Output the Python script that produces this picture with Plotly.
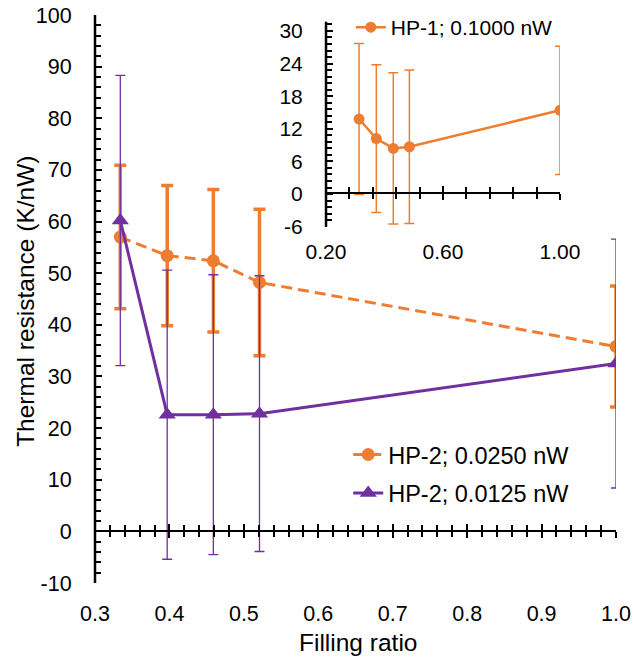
import plotly.graph_objects as go

# main chart: HP-2 at two heat loads
filling_ratio = [0.334, 0.397, 0.459, 0.521, 1.0]
hp2_025 = [57.0, 53.4, 52.4, 48.2, 35.8]
hp2_025_err = [13.9, 13.6, 13.8, 14.2, 11.7]
hp2_0125 = [60.2, 22.6, 22.6, 22.8, 32.5]
hp2_0125_err = [28.1, 28.0, 27.1, 26.7, 24.1]

# inset: HP-1
hp1_ratio = [0.313, 0.372, 0.430, 0.485, 1.0]
hp1_01 = [13.8, 10.2, 8.4, 8.7, 15.4]
hp1_01_err = [13.9, 13.6, 13.9, 14.1, 11.8]

main_xticks = [0.3, 0.4, 0.5, 0.6, 0.7, 0.8, 0.9, 1.0]
main_yticks = list(range(-10, 101, 10))
inset_xticks = [0.2, 0.6, 1.0]
inset_yticks = [-6, 0, 6, 12, 18, 24, 30]

ORANGE = '#ED7D31'
PURPLE = '#7030A0'
FONT = 'Liberation Sans, Arial, sans-serif'

fig = go.Figure()

fig.add_trace(go.Scatter(
    x=filling_ratio, y=hp2_025, name='HP-2; 0.0250 nW',
    mode='lines+markers',
    line=dict(color=ORANGE, width=3, dash='11px,6px'),
    marker=dict(symbol='circle', size=13, color=ORANGE),
    error_y=dict(type='data', array=hp2_025_err, color=ORANGE, thickness=3.5, width=6),
    legend='legend', legendgroup='a',
))
fig.add_trace(go.Scatter(
    x=filling_ratio, y=hp2_0125, name='HP-2; 0.0125 nW',
    mode='lines+markers',
    line=dict(color=PURPLE, width=3),
    marker=dict(symbol='triangle-up', size=15, color=PURPLE),
    error_y=dict(type='data', array=hp2_0125_err, color=PURPLE, thickness=1.3, width=5),
    legend='legend', legendgroup='b',
))
fig.add_trace(go.Scatter(
    x=hp1_ratio, y=hp1_01, name='HP-1; 0.1000 nW',
    mode='lines+markers', xaxis='x4', yaxis='y2',
    line=dict(color=ORANGE, width=2.5),
    marker=dict(symbol='circle', size=11, color=ORANGE),
    error_y=dict(type='data', array=hp1_01_err, color=ORANGE, thickness=1.5, width=5),
    legend='legend2',
))

# invisible copies so the crossing-tick axes get a subplot and are drawn
for xa, ya, xs, ys in [('x2', 'y', filling_ratio, hp2_025), ('x3', 'y', filling_ratio, hp2_025),
                       ('x5', 'y2', hp1_ratio, hp1_01), ('x6', 'y2', hp1_ratio, hp1_01)]:
    fig.add_trace(go.Scatter(x=xs, y=ys, xaxis=xa, yaxis=ya, mode='markers',
                             marker=dict(opacity=0), showlegend=False, hoverinfo='skip'))

tick_font = dict(family=FONT, size=21.5, color='black')
title_font = dict(family=FONT, size=24.5, color='black')
inset_font = dict(family=FONT, size=21, color='black')

# axis line at y=0 with crossing ticks (two overlaid axes, outside + inside)
def cross_axis(overlay, pos, rng, tick0, dtick, mdtick, side):
    return dict(
        overlaying=overlay, anchor='free', position=pos, range=rng,
        showline=True, linecolor='black', linewidth=2, automargin=False,
        showgrid=False, zeroline=False, showticklabels=False,
        tickmode='linear', tick0=tick0, dtick=dtick,
        ticks=side, ticklen=6, tickwidth=2, tickcolor='black',
        minor=dict(tickmode='linear', tick0=tick0, dtick=mdtick,
                   ticks=side, ticklen=5, tickwidth=1.5, tickcolor='black'),
    )

fig.update_layout(
    width=633, height=661,
    margin=dict(l=95, r=17, t=15, b=78, autoexpand=False),
    paper_bgcolor='white', plot_bgcolor='white',
    font=dict(family=FONT, size=21, color='black'),
    xaxis=dict(
        domain=[0, 1], anchor='y', range=[0.3, 1.0], automargin=False,
        tickmode='array', tickvals=main_xticks,
        ticktext=[f'{v:.1f}' for v in main_xticks],
        showline=False, showgrid=False, zeroline=False,
        ticks='', ticklabelstandoff=15, tickfont=tick_font,
        ticklabeloverflow='allow',
    ),
    xaxis2=cross_axis('x', 10 / 110, [0.3, 1.0], 0.3, 0.1, 0.02, 'outside'),
    xaxis3=cross_axis('x', 10 / 110, [0.3, 1.0], 0.3, 0.1, 0.02, 'inside'),
    yaxis=dict(
        domain=[0, 1], anchor='free', position=0, range=[-10, 100], automargin=False,
        tickmode='array', tickvals=main_yticks,
        ticktext=[str(v) for v in main_yticks],
        showline=True, linecolor='black', linewidth=2,
        showgrid=False, zeroline=False,
        ticks='inside', ticklen=6, tickwidth=2, tickcolor='black',
        minor=dict(tickmode='linear', tick0=0, dtick=2, ticks='inside',
                   ticklen=5, tickwidth=1.5, tickcolor='black'),
        ticklabelstandoff=18, tickfont=tick_font, ticklabeloverflow='allow',
    ),
    # inset
    xaxis4=dict(
        domain=[0.4434, 0.8925], anchor='y2', range=[0.2, 1.0], automargin=False,
        tickmode='array', tickvals=inset_xticks,
        ticktext=[f'{v:.2f}' for v in inset_xticks],
        showline=False, showgrid=False, zeroline=False,
        ticks='', ticklabelstandoff=10, tickfont=inset_font,
    ),
    xaxis5=cross_axis('x4', 0.6861, [0.2, 1.0], 0.2, 0.4, 0.08, 'outside'),
    xaxis6=cross_axis('x4', 0.6861, [0.2, 1.0], 0.2, 0.4, 0.08, 'inside'),
    yaxis2=dict(
        domain=[0.6273, 0.9882], anchor='free', position=0.4434, range=[-6, 31.7],
        automargin=False,
        tickmode='array', tickvals=inset_yticks,
        ticktext=[str(v) for v in inset_yticks],
        showline=True, linecolor='black', linewidth=2,
        showgrid=False, zeroline=False,
        ticks='inside', ticklen=6, tickwidth=2, tickcolor='black',
        minor=dict(tickmode='linear', tick0=0, dtick=1.2, ticks='inside',
                   ticklen=5, tickwidth=1.5, tickcolor='black'),
        ticklabelstandoff=18, tickfont=inset_font,
    ),
    legend=dict(
        x=0.486, y=0.2646, xanchor='left', yanchor='top',
        bgcolor='rgba(0,0,0,0)', font=dict(family=FONT, size=23.5, color='black'),
        traceorder='grouped', tracegroupgap=5,
    ),
    legend2=dict(
        x=0.491, y=1.014, xanchor='left', yanchor='top',
        bgcolor='rgba(0,0,0,0)', font=inset_font,
    ),
    shapes=[
        # vertical axis lines
        dict(type='line', xref='paper', yref='paper', x0=0, x1=0, y0=0, y1=1,
             line=dict(color='black', width=2.5)),
        dict(type='line', xref='x4 domain', yref='y2 domain', x0=0, x1=0, y0=0, y1=1,
             line=dict(color='black', width=2.5)),
    ],
    annotations=[
        dict(text='Thermal resistance (K/nW)', textangle=-90, font=title_font,
             xref='paper', yref='paper', x=-0.1324, y=0.495,
             xanchor='center', yanchor='middle', showarrow=False),
        dict(text='Filling ratio', font=title_font,
             xref='paper', yref='paper', x=0.5054, y=-0.1056,
             xanchor='center', yanchor='middle', showarrow=False),
    ],
)

# drop the default page margin so the figure sits at the window corner
fig.write_html("out.html", config={'displayModeBar': False},
               post_script="document.body.style.margin='0px';")
